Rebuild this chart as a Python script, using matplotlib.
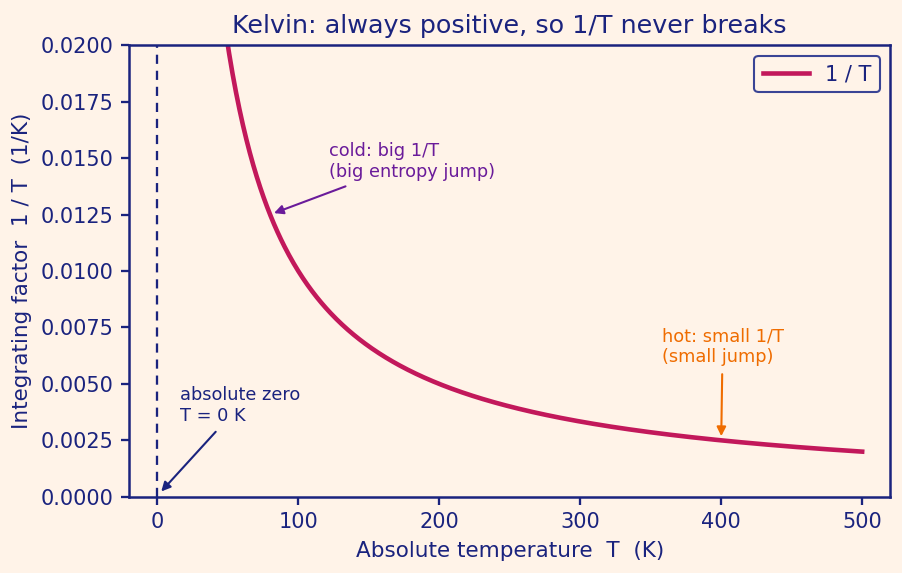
import numpy as np
import matplotlib
matplotlib.use("Agg")
import matplotlib.pyplot as plt
from matplotlib.ticker import FormatStrFormatter

# Data
temperature_K = np.linspace(10, 500, 600)
integrating_factor = 1.0 / temperature_K
x_ticks = [0, 100, 200, 300, 400, 500]
y_ticks = [0.0, 0.0025, 0.005, 0.0075, 0.01, 0.0125, 0.015, 0.0175, 0.02]

navy = "#1a237e"
crimson = "#c2185b"
purple = "#6a1b9a"
orange = "#ef6c00"
bg = "#fff3e8"

plt.rcParams['font.family'] = ['DejaVu Sans']
fig, ax = plt.subplots(figsize=(6.02, 3.82), dpi=150)
fig.patch.set_facecolor(bg)
ax.set_facecolor(bg)

ax.plot(temperature_K, integrating_factor, color=crimson, lw=2.2, label="1 / T")
ax.axvline(0, color=navy, lw=1.1, ls=(0, (4, 3)))

ax.set_xlim(-20, 520)
ax.set_ylim(0, 0.02)
ax.set_xticks(x_ticks)
ax.set_yticks(y_ticks)
ax.yaxis.set_major_formatter(FormatStrFormatter("%.4f"))

for s in ax.spines.values():
    s.set_color(navy)
    s.set_linewidth(1.2)
ax.tick_params(colors=navy, labelcolor=navy, labelsize=10, width=1.1, length=4)

ax.set_title("Kelvin: always positive, so 1/T never breaks", color=navy, fontsize=12.2)
ax.set_xlabel("Absolute temperature  T  (K)", color=navy, fontsize=10.3)
ax.set_ylabel("Integrating factor  1 / T  (1/K)", color=navy, fontsize=10.3)

ax.annotate("absolute zero\nT = 0 K", xy=(0.8, 0.0001), xytext=(16, 0.0032),
            ha="left", va="bottom", color=navy, fontsize=8.5,
            arrowprops=dict(arrowstyle="-|>", color=navy, lw=1.0, mutation_scale=9))
ax.annotate("cold: big 1/T\n(big entropy jump)", xy=(80, 0.0125), xytext=(122, 0.0140),
            ha="left", va="bottom", color=purple, fontsize=8.5,
            arrowprops=dict(arrowstyle="-|>", color=purple, lw=1.0, mutation_scale=9))
ax.annotate("hot: small 1/T\n(small jump)", xy=(400, 0.0025), xytext=(401, 0.0058),
            ha="center", va="bottom", multialignment="left", color=orange, fontsize=8.5,
            arrowprops=dict(arrowstyle="-|>", color=orange, lw=1.0, mutation_scale=9))

leg = ax.legend(loc="upper right", fontsize=10, facecolor=bg, edgecolor="#3a4495",
                framealpha=1, fancybox=True, handlelength=2.2)
for t in leg.get_texts():
    t.set_color(navy)
leg.get_frame().set_linewidth(1.0)

fig.subplots_adjust(left=0.143, right=0.986, top=0.921, bottom=0.133)
fig.savefig("out.png", dpi=150, facecolor=bg)
